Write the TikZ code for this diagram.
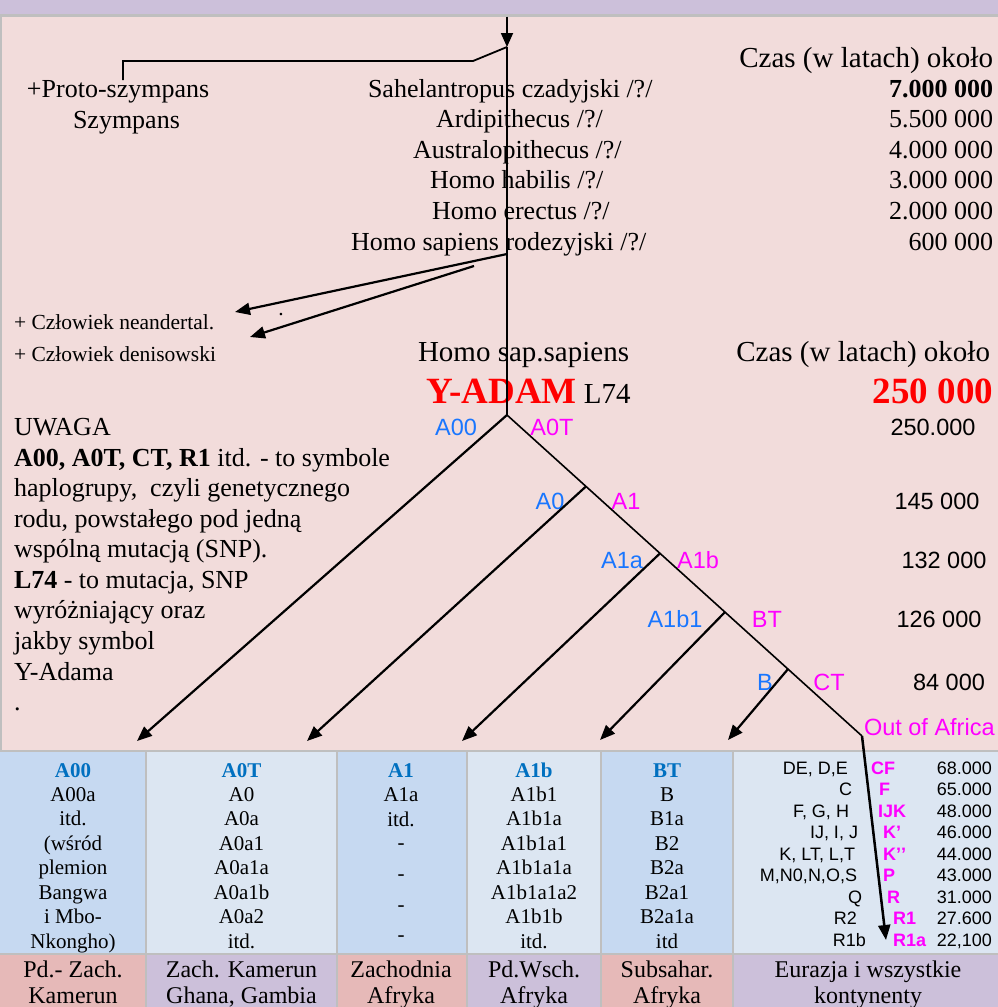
\documentclass[tikz,border=0pt]{standalone}
\usepackage{fontspec}
\setmainfont{Liberation Serif}
\setsansfont{Liberation Sans}
\usetikzlibrary{arrows.meta,calc}
\definecolor{bgpink}{RGB}{242,220,219}
\definecolor{lav}{RGB}{204,192,218}
\definecolor{rosec}{RGB}{230,185,184}
\definecolor{blueA}{RGB}{198,217,241}
\definecolor{blueB}{RGB}{220,230,242}
\definecolor{gridg}{RGB}{191,191,191}
\definecolor{lblblue}{RGB}{25,118,255}
\definecolor{hdrblue}{RGB}{0,112,192}
\definecolor{mag}{RGB}{255,0,255}
\definecolor{redc}{RGB}{255,0,0}
\tikzset{
  txt/.style={inner sep=0pt, outer sep=0pt},
  ser26/.style={txt, font=\fontsize{26}{30}\selectfont},
  ser29/.style={txt, font=\fontsize{29}{33}\selectfont},
  ser21/.style={txt, font=\fontsize{21.5}{24}\selectfont},
  bigred/.style={txt, font=\fontsize{37}{40}\selectfont\bfseries, text=redc},
  sans24/.style={txt, font=\sffamily\fontsize{23.5}{27}\selectfont},
  sans18/.style={txt, font=\sffamily\fontsize{18}{21}\selectfont},
  magl/.style={txt, font=\sffamily\bfseries\fontsize{18}{21}\selectfont, text=mag},
  cell/.style={txt, font=\fontsize{21}{24}\selectfont, anchor=base},
  cellhead/.style={cell, font=\fontsize{21}{24}\selectfont\bfseries, text=hdrblue},
  region/.style={txt, font=\fontsize{24}{26}\selectfont, anchor=base},
  thinline/.style={line width=1.6pt},
  plainline/.style={line width=1.8pt},
  branch/.style={line width=2.2pt, -{Triangle[length=15pt,width=12pt]}},
}
\begin{document}
\begin{tikzpicture}[x=1pt,y=-1pt]
\useasboundingbox (0,0) rectangle (998,1007);
\clip (0,0) rectangle (998,1007);
% backgrounds
\fill[lav] (0,0) rectangle (998,13.5);
\fill[gridg] (0,13.5) rectangle (998,16.5);
\fill[bgpink] (0,16.5) rectangle (998,750);
\fill[gridg] (0,16.5) rectangle (1.5,750);
\fill[gridg] (0,750) rectangle (998,1007);
\fill[blueA] (0,752) rectangle (145,953);
\fill[blueB] (147,752) rectangle (336,953);
\fill[blueA] (338,752) rectangle (466,953);
\fill[blueB] (468,752) rectangle (600,953);
\fill[blueA] (602,752) rectangle (732,953);
\fill[blueB] (734,752) rectangle (998,953);
\fill[rosec] (0,955) rectangle (145,1007);
\fill[lav] (147,955) rectangle (336,1007);
\fill[rosec] (338,955) rectangle (466,1007);
\fill[lav] (468,955) rectangle (600,1007);
\fill[rosec] (602,955) rectangle (732,1007);
\fill[lav] (734,955) rectangle (998,1007);

% upper texts
\node[ser29, anchor=base east] (czas1) at (993,67) {Czas (w latach) około};
\node[ser26, anchor=base west] (proto) at (27,97) {+Proto-szympans};
\node[ser26, anchor=base west] (szym) at (73,128) {Szympans};
\node[ser26, anchor=base west] (sah) at (368,97) {Sahelantropus czadyjski /?/};
\node[ser26, anchor=base west] (ardi) at (436,127.5) {Ardipithecus /?/};
\node[ser26, anchor=base west] (aust) at (413,158) {Australopithecus /?/};
\node[ser26, anchor=base west] (habi) at (430,188.5) {Homo habilis /?/};
\node[ser26, anchor=base west] (erec) at (432,219) {Homo erectus /?/};
\node[ser26, anchor=base west] (rode) at (351,250) {Homo sapiens rodezyjski /?/};
\node[ser26, anchor=base east, font=\fontsize{26}{30}\selectfont\bfseries] (n1) at (993,97) {7.000 000};
\node[ser26, anchor=base east] (n2) at (993,127.5) {5.500 000};
\node[ser26, anchor=base east] (n3) at (993,158) {4.000 000};
\node[ser26, anchor=base east] (n4) at (993,188.5) {3.000 000};
\node[ser26, anchor=base east] (n5) at (993,219) {2.000 000};
\node[ser26, anchor=base east] (n6) at (993,250) {600 000};

\node[ser21, anchor=base west] (nean) at (14,329) {+ Człowiek neandertal.};
\node[ser21, anchor=base west] (deni) at (14,361) {+ Człowiek denisowski};
\node[ser21, anchor=base] (dot) at (281,315) {.};
\node[ser29, anchor=base west] (hss) at (418,361) {Homo sap.sapiens};
\node[ser29, anchor=base east] (czas2) at (990,361) {Czas (w latach) około};
\node[txt, anchor=base west] (yadam) at (426,403) {{\fontsize{37}{40}\selectfont\bfseries\color{redc}Y-ADAM}{\fontsize{29}{33}\selectfont\ L74}};
\node[bigred, anchor=base east] (n250) at (993,403) {250 000};

% UWAGA block
\node[ser26, anchor=base west] (uw1) at (14,435) {UWAGA};
\node[ser26, anchor=base west] (uw2) at (14,466) {\textbf{A00, A0T, CT, R1} itd. - to symbole};
\node[ser26, anchor=base west] (uw3) at (14,496.5) {haplogrupy,\ \ czyli genetycznego};
\node[ser26, anchor=base west] (uw4) at (14,527) {rodu, powstałego pod jedną};
\node[ser26, anchor=base west] (uw5) at (14,557.5) {wspólną mutacją (SNP).};
\node[ser26, anchor=base west] (uw6) at (14,588) {\textbf{L74} - to mutacja, SNP};
\node[ser26, anchor=base west] (uw7) at (14,618.5) {wyróżniający oraz};
\node[ser26, anchor=base west] (uw8) at (14,649) {jakby symbol};
\node[ser26, anchor=base west] (uw9) at (14,680) {Y-Adama};
\node[ser26, anchor=base west] (uw10) at (14,710.5) {.};

% tree labels
\node[sans24, anchor=base, text=lblblue] (lA00) at (456,435) {A00};
\node[sans24, anchor=base, text=mag] (lA0T) at (552,435) {A0T};
\node[sans24, anchor=base] (d1) at (933,435) {250.000};
\node[sans24, anchor=base, text=lblblue] (lA0) at (550,509) {A0};
\node[sans24, anchor=base, text=mag] (lA1) at (626,509) {A1};
\node[sans24, anchor=base] (d2) at (937,509) {145 000};
\node[sans24, anchor=base, text=lblblue] (lA1a) at (622,568) {A1a};
\node[sans24, anchor=base, text=mag] (lA1b) at (698,568) {A1b};
\node[sans24, anchor=base] (d3) at (944,568) {132 000};
\node[sans24, anchor=base, text=lblblue] (lA1b1) at (675,627) {A1b1};
\node[sans24, anchor=base, text=mag] (lBT) at (767,627) {BT};
\node[sans24, anchor=base] (d4) at (939,627) {126 000};
\node[sans24, anchor=base, text=lblblue] (lB) at (765,690) {B};
\node[sans24, anchor=base, text=mag] (lCT) at (829,690) {CT};
\node[sans24, anchor=base] (d5) at (949,690) {84 000};
\node[sans24, anchor=base west, text=mag] (ooa) at (864,735) {Out of Africa};

% coordinates
\coordinate (topin) at (507,16.5);
\coordinate (split) at (507,47);
\coordinate (chA) at (473,61);
\coordinate (chB) at (123,61);
\coordinate (chC) at (123,80);
\coordinate (rod) at (507,254);
\coordinate (rod2) at (474,266);
\coordinate (neT) at (235,312);
\coordinate (deT) at (250,337);
\coordinate (root) at (507,415);
\coordinate (bend) at (862,736);
\coordinate (j1) at ($(root)!0.2225!(bend)$);
\coordinate (j2) at ($(root)!0.431!(bend)$);
\coordinate (j3) at ($(root)!0.614!(bend)$);
\coordinate (j4) at ($(root)!0.7915!(bend)$);
\coordinate (t1) at (137,741);
\coordinate (t2) at (307,741);
\coordinate (t3) at (462,741);
\coordinate (t4) at (600,740);
\coordinate (t5) at (728,740);
\coordinate (t6) at (886,940);

% connectors
\draw[plainline, -{Triangle[length=14pt,width=12pt]}] (topin) -- (split);
\draw[plainline] (split) -- (root);
\draw[plainline] (split) -- (chA) -- (chB) -- (chC);
\draw[branch] (rod) -- (neT);
\draw[branch] (rod2) -- (deT);
\draw[branch] (root) -- (t1);
\draw[thinline] (root) -- (bend);
\draw[branch] (j1) -- (t2);
\draw[branch] (j2) -- (t3);
\draw[branch] (j3) -- (t4);
\draw[branch] (j4) -- (t5);
\draw[branch, line width=2.5pt] (bend) -- (t6);

% table columns
\node[cellhead] (h1) at (73,777) {A00};
\foreach \t [count=\i] in {A00a, itd., {(wśród}, plemion, Bangwa, i Mbo-, {Nkongho)}}
  \node[cell] (ca\i) at (73,{777+24.45*\i}) {\t};
\node[cellhead] (h2) at (241.5,777) {A0T};
\foreach \t [count=\i] in {A0, A0a, A0a1, A0a1a, A0a1b, A0a2, itd.}
  \node[cell] (cb\i) at (241.5,{777+24.45*\i}) {\t};
\node[cellhead] (h3) at (401,777) {A1};
\node[cell] (cc1) at (401,801.5) {A1a};
\node[cell] (cc2) at (401,826) {itd.};
\foreach \yy [count=\i] in {849,880,911,941}
  \node[cell] (cd\i) at (401,\yy) {-};
\node[cellhead] (h4) at (534,777) {A1b};
\foreach \t [count=\i] in {A1b1, A1b1a, A1b1a1, A1b1a1a, A1b1a1a2, A1b1b, itd.}
  \node[cell] (ce\i) at (534,{777+24.45*\i}) {\t};
\node[cellhead] (h5) at (667,777) {BT};
\foreach \t [count=\i] in {B, B1a, B2, B2a, B2a1, B2a1a, itd}
  \node[cell] (cf\i) at (667,{777+24.45*\i}) {\t};

\foreach \lt/\lx/\mt/\mx/\nt [count=\i] in {
 {DE, D,E}/848/CF/871/68.000,
 C/852/F/879/65.000,
 {F, G, H}/849/IJK/878/48.000,
 {IJ, I, J}/858/K’/883/46.000,
 {K, LT, L,T}/855/{K’\kern0pt’}/883/44.000,
 {M,N0,N,O,S}/857/P/883/43.000,
 Q/862/R/887/31.000,
 R2/857/R1/893/27.600,
 R1b/866/R1a/893/{22,100}}
{
 \pgfmathsetmacro\yy{774+21.5*(\i-1)}
 \node[sans18, anchor=base east] (gl\i) at (\lx,\yy) {\lt};
 \node[magl, anchor=base west] (gm\i) at (\mx,\yy) {\mt};
 \node[sans18, anchor=base east] (gn\i) at (992,\yy) {\nt};
}

% bottom row
\node[region] (r1a) at (73,977) {Pd.- Zach.};
\node[region] (r1b) at (73,1003) {Kamerun};
\node[region] (r2a) at (241.5,977) {Zach. Kamerun};
\node[region] (r2b) at (241.5,1003) {Ghana, Gambia};
\node[region] (r3a) at (401,977) {Zachodnia};
\node[region] (r3b) at (401,1003) {Afryka};
\node[region] (r4a) at (534,977) {Pd.Wsch.};
\node[region] (r4b) at (534,1003) {Afryka};
\node[region] (r5a) at (667,977) {Subsahar.};
\node[region] (r5b) at (667,1003) {Afryka};
\node[region] (r6a) at (868,977) {Eurazja i wszystkie};
\node[region] (r6b) at (868,1003) {kontynenty};
\end{tikzpicture}
\end{document}
